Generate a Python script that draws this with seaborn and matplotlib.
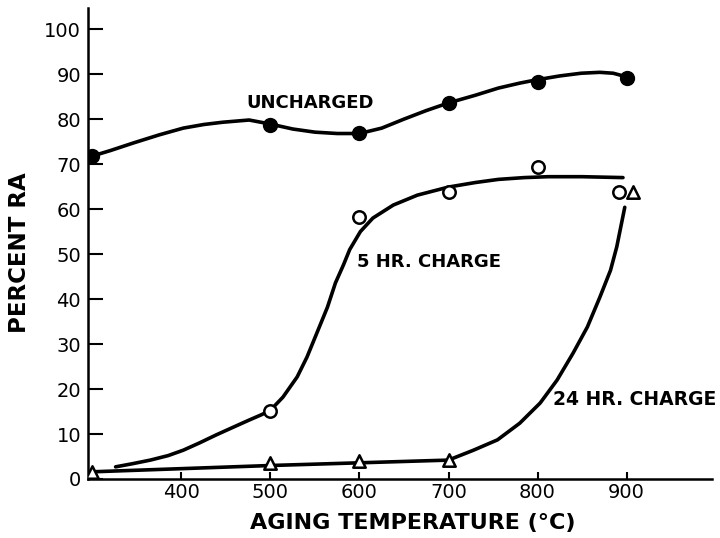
import matplotlib
matplotlib.use("Agg")
import matplotlib.pyplot as plt
import seaborn as sns

# Measured points (aging temperature in °C, percent reduction of area)
uncharged_temp = [300, 500, 600, 700, 800, 900]
uncharged_ra = [71.8, 78.7, 76.9, 83.6, 88.2, 89.1]

charge5_temp = [500, 600, 700, 800, 900]
charge5_ra = [15.2, 58.2, 63.8, 69.3, 63.8]

charge24_temp = [300, 500, 600, 700, 900]
charge24_ra = [1.6, 3.5, 4.0, 4.3, 63.8]

# Hand-faired trend curves drawn through the measurements
uncharged_curve_t = [300, 320, 346, 375, 402, 425, 446, 476, 500, 525, 550, 575, 600,
                     625, 650, 675, 700, 730, 756, 780, 798, 825, 849, 870, 885, 900]
uncharged_curve_v = [71.8, 73.0, 74.7, 76.5, 78.0, 78.8, 79.3, 79.8, 78.9, 77.8, 77.1, 76.8, 76.8,
                     78.0, 80.0, 81.9, 83.6, 85.3, 86.9, 88.0, 88.7, 89.6, 90.2, 90.4, 90.2, 89.4]

charge5_curve_t = [326, 345, 365, 385, 402, 420, 439, 458, 476, 490, 500, 514, 530, 541, 552,
                   564, 573, 582, 589, 601, 615, 638, 665, 700, 730, 756, 785, 812, 850, 896]
charge5_curve_v = [2.7, 3.4, 4.2, 5.2, 6.4, 8.0, 9.8, 11.5, 13.1, 14.3, 15.3, 18.2, 22.7, 27.1, 32.4,
                   38.2, 43.6, 47.6, 51.0, 55.0, 58.0, 60.9, 63.1, 64.9, 65.9, 66.6, 67.0, 67.2, 67.2, 67.0]

charge24_curve_t = [300, 400, 500, 600, 700, 705, 728, 755, 780, 803, 822, 840, 856, 870, 882, 889, 898]
charge24_curve_v = [1.6, 2.3, 3.0, 3.6, 4.2, 4.6, 6.4, 8.7, 12.4, 16.9, 22.0, 28.0, 33.8, 40.4, 46.4, 51.6, 60.4]

x_ticks = [400, 500, 600, 700, 800, 900]
y_ticks = [0, 10, 20, 30, 40, 50, 60, 70, 80, 90, 100]

sns.set_theme(style="ticks")
plt.rcParams["font.family"] = ["DejaVu Sans"]
plt.rcParams["text.color"] = "black"
plt.rcParams["axes.labelcolor"] = "black"
plt.rcParams["xtick.color"] = "black"
plt.rcParams["ytick.color"] = "black"

fig = plt.figure(figsize=(7.2, 5.38), dpi=100)
ax = fig.add_axes([88 / 720, (538 - 479) / 538, (712 - 88) / 720, (479 - 8) / 538])

curve_kw = dict(color="black", linewidth=2.6, estimator=None, sort=False, legend=False, ax=ax)
sns.lineplot(x=uncharged_curve_t, y=uncharged_curve_v, **curve_kw)
sns.lineplot(x=charge5_curve_t, y=charge5_curve_v, **curve_kw)
sns.lineplot(x=charge24_curve_t, y=charge24_curve_v, **curve_kw)

# points that coincide at 900 °C are nudged apart so both stay visible
dodge5 = [(-9 if t == 900 else 0) for t in charge5_temp]
dodge24 = [(7 if t == 900 else 0) for t in charge24_temp]

sns.scatterplot(x=uncharged_temp, y=uncharged_ra, marker="o", s=100,
                color="black", edgecolor="black", linewidth=1, zorder=5, ax=ax)
sns.scatterplot(x=[t + d for t, d in zip(charge5_temp, dodge5)], y=charge5_ra, marker="o", s=80,
                facecolor="white", edgecolor="black", linewidth=1.8, zorder=5, ax=ax)
sns.scatterplot(x=[t + d for t, d in zip(charge24_temp, dodge24)], y=charge24_ra, marker="^", s=80,
                facecolor="white", edgecolor="black", linewidth=1.8, zorder=5, ax=ax)

ax.text(544, 83.6, "UNCHARGED", fontsize=13, fontweight="bold", ha="center", va="center")
ax.text(597, 48.2, "5 HR. CHARGE", fontsize=13, fontweight="bold", ha="left", va="center")
ax.text(817, 17.6, "24 HR. CHARGE", fontsize=13.5, fontweight="bold", ha="left", va="center")

ax.set_xlim(295, 996)
ax.set_ylim(0, 104.7)
ax.set_xticks(x_ticks)
ax.set_yticks(y_ticks)
ax.set_xticklabels([str(v) for v in x_ticks], fontsize=14)
ax.set_yticklabels([str(v) for v in y_ticks], fontsize=14)
ax.tick_params(axis="y", direction="in", length=11, width=1.5, pad=5)
ax.tick_params(axis="x", direction="in", length=5, width=1.5, pad=3)

ax.set_xlabel("AGING TEMPERATURE (°C)", fontsize=16, fontweight="bold")
ax.set_ylabel("PERCENT RA", fontsize=16.5, fontweight="bold")
ax.xaxis.set_label_coords(0.52, -0.072)
ax.yaxis.set_label_coords(-0.092, 0.48)

sns.despine(ax=ax)
for side in ("left", "bottom"):
    ax.spines[side].set_linewidth(1.8)
    ax.spines[side].set_color("black")

fig.savefig("out.png", dpi=100, facecolor="white")
